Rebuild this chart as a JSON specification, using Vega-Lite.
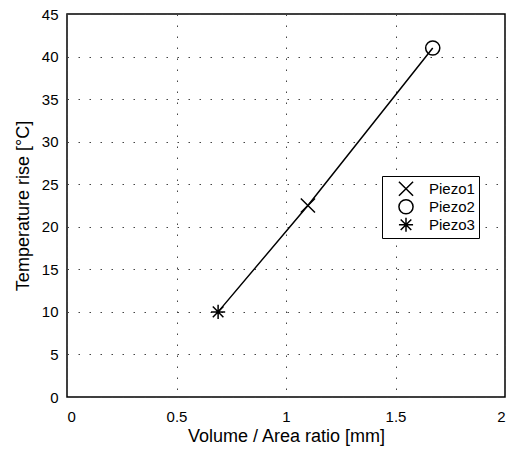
{
  "$schema": "https://vega.github.io/schema/vega-lite/v6.json",
  "autosize": "none",
  "width": 438,
  "height": 383,
  "padding": {"left": 67, "top": 14, "right": 5, "bottom": 53},
  "background": "white",
  "config": {
    "font": "Liberation Sans",
    "view": {"stroke": "black", "strokeWidth": 1.5},
    "axis": {
      "labelFont": "Liberation Sans",
      "titleFont": "Liberation Sans",
      "labelFontSize": 15,
      "titleFontSize": 18,
      "titleFontWeight": "normal",
      "labelColor": "black",
      "titleColor": "black",
      "domain": false,
      "ticks": false,
      "grid": true,
      "gridColor": "#444",
      "gridDash": [1.5, 9.5],
      "gridWidth": 1
    }
  },
  "data": {
    "values": [
      {"series": "Piezo3", "ratio": 0.69, "rise": 10},
      {"series": "Piezo1", "ratio": 1.1, "rise": 22.5},
      {"series": "Piezo2", "ratio": 1.67, "rise": 41}
    ]
  },
  "encoding": {
    "x": {
      "field": "ratio", "type": "quantitative",
      "scale": {"domain": [0, 2], "nice": false},
      "axis": {"values": [0, 0.5, 1, 1.5, 2], "format": ".1~f", "title": "Volume / Area ratio [mm]", "labelPadding": 12, "titlePadding": 3}
    },
    "y": {
      "field": "rise", "type": "quantitative",
      "scale": {"domain": [0, 45], "nice": false},
      "axis": {"values": [0, 5, 10, 15, 20, 25, 30, 35, 40, 45], "title": "Temperature rise [°C]", "labelPadding": 9, "titlePadding": 9}
    }
  },
  "layer": [
    {
      "mark": {"type": "line", "color": "black", "strokeWidth": 1.5},
      "encoding": {"order": {"field": "ratio"}}
    },
    {
      "mark": {"type": "point", "filled": false, "color": "black", "strokeWidth": 1.5, "opacity": 1},
      "encoding": {
        "shape": {
          "field": "series", "type": "nominal",
          "scale": {
            "domain": ["Piezo1", "Piezo2", "Piezo3"],
            "range": ["M-1,-1L1,1M-1,1L1,-1", "circle", "M0,-1L0,1M-1,0L1,0M-0.75,-0.75L0.75,0.75M-0.75,0.75L0.75,-0.75"]
          },
          "legend": {
            "title": null,
            "orient": "none",
            "legendX": 315,
            "legendY": 162,
            "strokeColor": "black",
            "fillColor": "white",
            "padding": 4,
            "labelFont": "Liberation Sans",
            "labelFontSize": 15,
            "labelColor": "black",
            "labelExpr": "datum.label + '\u2003\u2003\u2003'",
            "symbolSize": 200,
            "symbolStrokeColor": "black",
            "symbolFillColor": "transparent",
            "symbolStrokeWidth": 1.5,
            "symbolOffset": 12,
            "labelOffset": 15,
            "clipHeight": 17.5,
            "rowPadding": 0
          }
        },
        "size": {"value": 200}
      }
    }
  ]
}
